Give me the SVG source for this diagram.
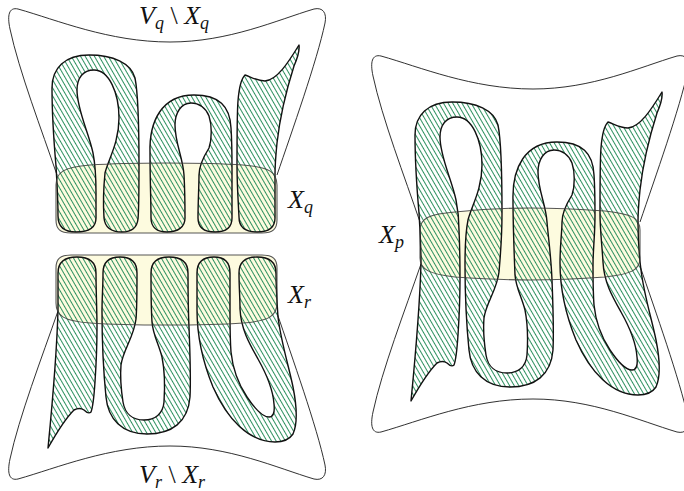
<svg xmlns="http://www.w3.org/2000/svg" width="684" height="491" viewBox="0 0 684 491">
<defs>
<pattern id="hatch" patternUnits="userSpaceOnUse" width="4" height="20" patternTransform="rotate(-30)">
<rect x="0" y="0" width="1" height="20" fill="#2e9160"/>
</pattern>
<path id="outerTop" d="M 420,222 C 405,178 382,118 373,76 C 370,62 372,54 381,56 C 420,67 472,89 533,89 C 592,89 640,67 677,56 C 686,54 690,60 688,70 C 680,108 655,178 640,222"/>
<path id="outerBot" d="M 421,264 C 405,310 382,370 373,412 C 370,426 372,434 381,432 C 420,421 472,399 533,399 C 592,399 640,421 677,432 C 686,434 690,428 688,418 C 680,380 655,310 640,266"/>
<path id="pA" d="M 439,279 C 428,279 421,274 421,263 C 421,245 420,230 419,213 C 417,190 415,160 415,135 C 415,115 428,102 452,102 C 476,102 494,110 498,125 C 501,140 502,175 502,213 C 502,235 502,255 501,266 C 500,275 494,279 485,279 C 475,279 468,275 467,265 C 466,250 467,230 468,220 C 471,207 482,190 482,165 C 482,140 472,117 457,117 C 446,117 440,125 440,137 C 440,157 452,180 456,200 C 458,210 459,225 459,240 C 459,250 459,258 459,265 C 459,274 452,279 439,279 Z"/>
<path id="pB" d="M 530,279 C 520,279 514,274 514,265 C 514,250 513,225 513,200 C 512,168 525,142 557,142 C 582,142 593,153 594,175 C 595,190 595,205 595,215 C 595,240 595,255 595,265 C 595,274 589,279 578,279 C 567,279 561,274 561,265 C 561,250 562,232 562,222 C 562,212 567,203 572,195 C 575,186 575,172 572,163 C 569,155 562,150 554,150 C 544,150 538,160 538,172 C 538,190 546,205 547,222 C 548,240 548,255 548,265 C 548,274 541,279 530,279 Z"/>
<path id="pC" d="M 620,279 C 608,279 602,274 602,264 C 601,245 600,230 600,213 C 600,190 600,160 601,148 C 602,135 604,126 608,122 C 614,124 620,128 628,128 C 640,127 651,110 662,92 C 663,99 660,106 657,113 C 650,135 643,163 640,190 C 639,200 638,210 638,222 C 638,240 638,255 638,265 C 638,274 632,279 620,279 Z"/>
<path id="pD" d="M 440,210 C 428,210 421,215 421,226 C 421,240 421,250 421,263 C 420,300 416,350 411,401 C 420,385 428,372 437,363 C 441,361 444,361 447,363 C 450,366 452,367 454,365 C 456,360 457,350 458,335 C 459,320 460,300 460,280 C 460,265 459,245 459,226 C 459,215 452,210 440,210 Z"/>
<path id="pE" d="M 483,210 C 472,210 466,215 466,226 C 466,240 465,250 465,265 C 465,300 467,330 469,350 C 471,372 485,387 510,387 C 535,387 551,375 553,350 C 554,330 553,305 552,280 C 551,260 551,240 551,226 C 551,215 544,210 532,210 C 521,210 514,215 514,226 C 514,240 514,260 515,275 C 516,288 521,295 525,310 C 528,325 528,340 527,355 C 526,367 518,373 507,373 C 496,373 488,367 486,355 C 484,342 483,330 484,318 C 486,303 497,290 499,272 C 500,260 500,240 500,226 C 500,215 494,210 483,210 Z"/>
<path id="pF" d="M 577,210 C 566,210 560,215 560,226 C 560,240 560,250 560,263 C 560,290 565,313 576,340 C 590,372 612,395 638,395 C 646,395 652,393 656,387 C 660,378 660,360 656,340 C 652,320 644,295 641,270 C 640,255 639,240 639,226 C 639,215 632,210 620,210 C 609,210 602,215 602,226 C 602,240 603,250 603,262 C 604,282 612,296 621,312 C 630,328 636,342 637,357 C 638,366 636,370 632,370 C 626,370 618,362 610,350 C 602,338 596,325 594,305 C 593,292 593,280 593,265 C 593,250 593,240 593,226 C 593,215 588,210 577,210 Z"/>
<path id="lensQ" d="M 56,185 C 56,172 64,167 90,165 C 120,163 140,163 166,163 C 195,163 215,163 243,165 C 269,167 277,172 277,185 L 277,220 C 277,229 273,233 262,233 L 71,233 C 60,233 56,229 56,220 Z"/>
<path id="lensR" d="M 56,303 C 56,316 64,321 90,323 C 120,325 140,325 166,325 C 195,325 215,325 243,323 C 269,321 277,316 277,303 L 277,268 C 277,259 273,255 262,255 L 71,255 C 60,255 56,259 56,268 Z"/>
<path id="lensP" d="M 420,230 C 420,218 430,214 455,212 C 485,209 505,208 530,208 C 556,208 578,209 605,211 C 632,214 640,218 640,230 L 640,258 C 640,270 632,274 605,277 C 578,279 556,280 530,280 C 505,280 485,279 455,277 C 430,274 420,270 420,258 Z"/>
</defs>
<style>
.band{fill:url(#hatch);stroke:#111;stroke-width:1.4;stroke-linejoin:round}
.lens{fill:#fdfbdf;stroke:none}
.lensline{fill:none;stroke:#3a3a3a;stroke-width:1.1;stroke-opacity:0.85}
.outer{fill:none;stroke:#1a1a1a;stroke-width:0.9}
.lbl{font-family:"Liberation Serif","DejaVu Serif",serif;font-size:26px;fill:#111}
.it{font-style:italic}
.sub{font-size:18px;font-style:italic}
</style>
<rect x="0" y="0" width="684" height="491" fill="#ffffff"/>

<g id="part-q">
<use href="#outerTop" class="outer" transform="translate(-363,-47)"/>
<use href="#lensQ" class="lens"/>
<g transform="translate(-363,-47)">
<use href="#pA" class="band"/>
<use href="#pB" class="band"/>
<use href="#pC" class="band"/>
</g>
<use href="#lensQ" class="lensline"/>
</g>

<g id="part-r">
<use href="#outerBot" class="outer" transform="translate(-363,47)"/>
<use href="#lensR" class="lens"/>
<g transform="translate(-363,47)">
<use href="#pD" class="band"/>
<use href="#pE" class="band"/>
<use href="#pF" class="band"/>
</g>
<use href="#lensR" class="lensline"/>
</g>

<g id="part-p">
<use href="#outerTop" class="outer"/>
<use href="#outerBot" class="outer"/>
<use href="#lensP" class="lens"/>
<path class="band" d="M 411,401 C 416,350 420,300 421,263 C 421,245 420,230 419,213 C 417,190 415,160 415,135 C 415,115 428,102 452,102 C 476,102 494,110 498,125 C 501,140 502,175 502,213 C 502,240 500,260 499,272 C 497,290 486,303 484,318 C 483,330 484,342 486,355 C 488,367 496,373 507,373 C 518,373 526,367 527,355 C 528,340 528,325 525,310 C 521,295 516,288 515,275 C 514,250 513,225 513,200 C 512,168 525,142 557,142 C 582,142 593,153 594,175 C 595,190 595,205 595,215 C 595,235 593,250 593,265 C 593,280 593,292 594,305 C 596,325 602,338 610,350 C 618,362 626,370 632,370 C 636,370 638,366 637,357 C 636,342 630,328 621,312 C 612,296 604,282 603,262 C 602,245 600,230 600,213 C 600,190 600,160 601,148 C 602,135 604,126 608,122 C 614,124 620,128 628,128 C 640,127 651,110 662,92 C 663,99 660,106 657,113 C 650,135 643,163 640,190 C 639,200 638,210 638,222 C 638,240 639,255 641,270 C 644,295 652,320 656,340 C 660,360 660,378 656,387 C 652,393 646,395 638,395 C 612,395 590,372 576,340 C 565,313 560,290 560,263 C 560,245 562,232 562,222 C 562,212 567,203 572,195 C 575,186 575,172 572,163 C 569,155 562,150 554,150 C 544,150 538,160 538,172 C 538,190 546,205 547,222 C 548,235 551,255 552,280 C 553,305 554,330 553,350 C 551,375 535,387 510,387 C 485,387 471,372 469,350 C 467,330 465,300 465,265 C 465,245 466,230 468,220 C 471,207 482,190 482,165 C 482,140 472,117 457,117 C 446,117 440,125 440,137 C 440,157 452,180 456,200 C 458,210 459,220 459,230 C 460,250 460,265 460,280 C 460,300 459,320 458,335 C 457,350 456,360 454,365 C 452,367 450,366 447,363 C 444,361 441,361 437,363 C 428,372 420,385 411,401 Z"/>
<use href="#lensP" class="lensline"/>
</g>

<g id="labels">
<text class="lbl" x="139" y="24"><tspan class="it">V</tspan><tspan class="sub" dy="5">q</tspan><tspan dy="-5"> \ </tspan><tspan class="it">X</tspan><tspan class="sub" dy="5">q</tspan></text>
<text class="lbl" x="288" y="208"><tspan class="it">X</tspan><tspan class="sub" dy="5">q</tspan></text>
<text class="lbl" x="288" y="303"><tspan class="it">X</tspan><tspan class="sub" dy="5">r</tspan></text>
<text class="lbl" x="139" y="483"><tspan class="it">V</tspan><tspan class="sub" dy="5">r</tspan><tspan dy="-5"> \ </tspan><tspan class="it">X</tspan><tspan class="sub" dy="5">r</tspan></text>
<text class="lbl" x="379" y="243"><tspan class="it">X</tspan><tspan class="sub" dy="5">p</tspan></text>
</g>
</svg>
